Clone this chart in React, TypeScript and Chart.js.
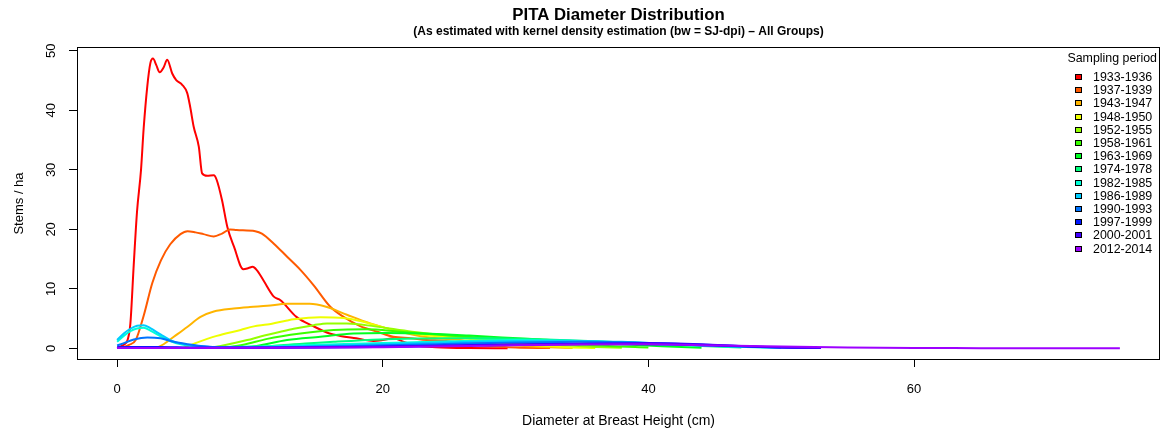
import { useEffect, useRef } from "react";
import { Chart, registerables } from "chart.js";

Chart.register(...registerables);

const FONT = '"Liberation Sans", Arial, sans-serif';

const titleText = "PITA Diameter Distribution";
const subtitleText = "(As estimated with kernel density estimation (bw = SJ-dpi) \u2013 All Groups)";
const legendTitle = "Sampling period";
const xTitle = "Diameter at Breast Height (cm)";
const yTitle = "Stems / ha";
const xTickValues = [0, 20, 40, 60];
const yTickValues = [0, 10, 20, 30, 40, 50];

const periods = [
  "1933-1936", "1937-1939", "1943-1947", "1948-1950", "1952-1955", "1958-1961", "1963-1969",
  "1974-1978", "1982-1985", "1986-1989", "1990-1993", "1997-1999", "2000-2001", "2012-2014",
];

// Kernel density curves, scaled to stems per hectare (x = DBH in cm)
const dbh1933 = [0, 0.5, 0.8, 1.0, 1.25, 1.5, 1.8, 2.0, 2.27, 2.5, 2.7, 2.95, 3.2, 3.5, 3.77, 4.15, 4.45, 4.9, 5.28, 5.5, 5.77, 6.15, 6.4, 6.78, 7.28, 7.5, 7.9, 8.3, 8.8, 9.5, 9.9, 10.2, 10.5, 11.0, 11.8, 12.3, 13.5, 14.8, 16.0, 16.8, 18.0, 19.3, 20.0, 20.8, 21.6, 22.5, 24.0, 26.5, 29.4];
const stems1933 = [0.1, 0.6, 1.5, 4.2, 14, 23, 30, 37, 44, 47.9, 48.7, 47.6, 46.4, 47.2, 48.5, 46.2, 45.1, 44.3, 42.9, 40.6, 37.2, 33.9, 29.4, 29.0, 29.1, 28.3, 24.9, 20.4, 17.1, 13.3, 13.5, 13.7, 13.2, 11.5, 8.7, 8.1, 5.3, 3.7, 2.5, 2.1, 1.7, 1.25, 1.4, 1.7, 1.1, 0.5, 0.2, 0.05, 0.02];

const dbh1937 = [0.3, 0.9, 1.4, 2.0, 2.65, 3.3, 4.0, 4.77, 5.3, 5.9, 6.5, 7.28, 7.9, 8.5, 9.0, 10.4, 10.9, 11.8, 12.8, 13.8, 14.8, 16.05, 17.05, 18.3, 19.6, 20.8, 22.1, 23.3, 24.6, 26.0, 28.0, 30.0, 32.6];
const stems1937 = [0.1, 0.6, 1.4, 5.5, 11, 14.8, 17.5, 19.2, 19.7, 19.5, 19.2, 18.8, 19.3, 20.0, 19.9, 19.7, 19.3, 17.6, 15.4, 13.2, 10.6, 7.0, 5.3, 3.75, 2.8, 1.95, 1.7, 1.4, 1.3, 0.9, 0.4, 0.15, 0.05];

const dbh1943 = [3.0, 3.5, 4.27, 5.28, 6.28, 7.28, 8.78, 10.0, 11.3, 12.8, 14.5, 15.8, 17.3, 19.06, 21.3, 23.3, 25.8, 28.0, 30.0, 32.0, 34.3];
const stems1943 = [0.1, 0.7, 1.95, 3.6, 5.3, 6.2, 6.7, 6.95, 7.15, 7.5, 7.5, 6.95, 5.65, 4.2, 2.8, 1.9, 1.4, 0.8, 0.5, 0.25, 0.05];

const dbh1948 = [5.0, 5.8, 7.5, 9.3, 10.3, 11.3, 12.8, 13.3, 15.3, 17.05, 18.3, 20.8, 23.3, 25.8, 28.0, 31.0, 34.0, 36.0];
const stems1948 = [0.1, 0.8, 2.1, 3.1, 3.7, 4.0, 4.7, 4.9, 5.25, 5.1, 4.6, 3.1, 2.2, 1.8, 1.2, 0.6, 0.2, 0.05];

const dbh1952 = [7.0, 7.8, 9.8, 10.8, 12.3, 13.3, 14.8, 15.8, 17.3, 19.4, 22.2, 24.7, 27.0, 30.0, 33.0, 36.0, 38.0];
const stems1952 = [0.1, 0.4, 1.4, 2.0, 2.8, 3.3, 3.9, 4.2, 4.2, 3.7, 2.8, 2.2, 1.7, 1.1, 0.6, 0.25, 0.1];

const dbh1958 = [8.0, 9.5, 11.3, 13.8, 16.3, 18.8, 21.3, 24.8, 28.0, 31.0, 34.0, 37.0, 40.0];
const stems1958 = [0.1, 0.6, 1.6, 2.5, 3.1, 3.2, 2.8, 2.2, 1.7, 1.2, 0.8, 0.4, 0.15];

const dbh1963 = [9.0, 10.5, 12.8, 15.3, 17.8, 20.3, 23.6, 26.5, 29.8, 32.6, 35.4, 38.0, 41.0, 44.0];
const stems1963 = [0.05, 0.4, 1.4, 1.95, 2.5, 2.6, 2.45, 2.15, 1.75, 1.4, 1.1, 0.7, 0.35, 0.1];

const dbh1974 = [10, 12.3, 14.5, 16.3, 19.8, 22.5, 24.8, 28.0, 32.3, 36.0, 40.0, 44.0, 47.0];
const stems1974 = [0.1, 0.55, 0.85, 1.1, 1.5, 1.65, 1.7, 1.7, 1.5, 1.2, 0.8, 0.4, 0.15];

const dbh1982 = [0, 0.5, 1.0, 1.5, 2.0, 2.5, 3.3, 4.0, 4.8, 5.8, 7.0, 10, 15, 20, 25, 30, 34, 38, 42, 46, 50];
const stems1982 = [1.1, 2.1, 2.9, 3.35, 3.45, 3.0, 2.0, 1.25, 0.7, 0.4, 0.25, 0.3, 0.6, 0.9, 1.2, 1.4, 1.3, 1.0, 0.6, 0.3, 0.1];

const dbh1986 = [0, 0.5, 1.0, 1.5, 2.0, 2.5, 3.3, 4.0, 4.8, 5.8, 7.0, 10, 15, 20, 25, 30, 34, 38, 42, 46, 50];
const stems1986 = [1.4, 2.5, 3.3, 3.8, 3.9, 3.4, 2.3, 1.4, 0.8, 0.45, 0.25, 0.2, 0.4, 0.7, 1.0, 1.25, 1.3, 1.1, 0.7, 0.35, 0.1];

const dbh1990 = [0, 0.3, 1.26, 2.27, 3.27, 4.27, 5.3, 6.3, 8, 12, 18, 24, 30, 35, 39, 43, 47, 50, 52];
const stems1990 = [0.5, 0.7, 1.5, 1.85, 1.7, 1.1, 0.7, 0.4, 0.2, 0.2, 0.4, 0.7, 1.0, 1.1, 1.0, 0.7, 0.4, 0.15, 0.05];

const dbh1997 = [0, 3, 6, 12, 18, 24, 30, 36, 42, 46, 49, 52];
const stems1997 = [0.2, 0.25, 0.1, 0.1, 0.2, 0.4, 0.6, 0.75, 0.65, 0.4, 0.2, 0.05];

const dbh2000 = [0, 5, 10, 20, 28, 34, 40, 44, 47, 50, 53];
const stems2000 = [0.1, 0.1, 0.1, 0.3, 0.6, 0.8, 0.9, 0.7, 0.4, 0.15, 0.05];

const dbh2012 = [0, 10, 20, 28, 35, 40, 45, 50, 55, 60, 65, 70, 75.5];
const stems2012 = [0.05, 0.1, 0.2, 0.45, 0.65, 0.7, 0.5, 0.3, 0.15, 0.07, 0.04, 0.02, 0.01];

const seriesDbh = [dbh1933, dbh1937, dbh1943, dbh1948, dbh1952, dbh1958, dbh1963, dbh1974, dbh1982, dbh1986, dbh1990, dbh1997, dbh2000, dbh2012];
const seriesStems = [stems1933, stems1937, stems1943, stems1948, stems1952, stems1958, stems1963, stems1974, stems1982, stems1986, stems1990, stems1997, stems2000, stems2012];

// Rainbow palette, red through violet
const periodColors = [
  "#FF0000", "#FF5A00", "#FFB500", "#EEFF00", "#94FF00", "#39FF00", "#00FF21",
  "#00FF7C", "#00FFD6", "#00CDFF", "#0073FF", "#0018FF", "#4200FF", "#9D00FF",
];

const headerPlugin = {
  id: "header",
  afterDraw(chart: any) {
    const { ctx, chartArea } = chart;
    const cx = (chartArea.left + chartArea.right) / 2;
    ctx.save();
    ctx.fillStyle = "#000";
    ctx.textAlign = "center";
    ctx.textBaseline = "middle";
    ctx.font = `bold 16.8px ${FONT}`;
    ctx.fillText(titleText, cx, 15);
    ctx.font = `bold 12px ${FONT}`;
    ctx.fillText(subtitleText, cx, 32);
    ctx.restore();
  },
};

const frameLegendPlugin = {
  id: "frameLegend",
  afterDraw(chart: any) {
    const { ctx, chartArea: a } = chart;
    ctx.save();
    ctx.strokeStyle = "#000";
    ctx.lineWidth = 1;
    const l = Math.round(a.left) + 0.5;
    const t = Math.round(a.top) + 0.5;
    ctx.strokeRect(l, t, Math.round(a.right) - 1 - Math.round(a.left), Math.round(a.bottom) - 1 - Math.round(a.top));

    // legend box in the upper right corner of the plot
    ctx.font = `12.4px ${FONT}`;
    ctx.textBaseline = "middle";
    ctx.textAlign = "right";
    ctx.fillStyle = "#000";
    ctx.fillText(legendTitle, a.right - 3, a.top + 11.5);
    ctx.textAlign = "left";
    chart.data.datasets.forEach((ds: any, i: number) => {
      const y = Math.round(a.top + 30 + i * 13.2);
      ctx.fillStyle = ds.borderColor;
      ctx.fillRect(a.right - 85, y - 3, 7, 6);
      ctx.strokeStyle = "#000";
      ctx.strokeRect(a.right - 85 + 0.5, y - 3 + 0.5, 6, 5);
      ctx.fillStyle = "#000";
      ctx.fillText(ds.label, a.right - 67, y + 0.5);
    });
    ctx.restore();
  },
};

export default function App() {
  const canvasRef = useRef<HTMLCanvasElement | null>(null);

  useEffect(() => {
    const canvas = canvasRef.current;
    if (!canvas) return;
    const chart = new Chart(canvas, {
      type: "scatter",
      data: {
        datasets: periods.map((p, i) => ({
          label: p,
          data: seriesDbh[i].map((x, j) => ({ x, y: seriesStems[i][j] })),
          borderColor: periodColors[i],
          backgroundColor: periodColors[i],
          showLine: true,
          pointRadius: 0,
          borderWidth: 2,
          fill: false,
          cubicInterpolationMode: "monotone",
          order: periods.length - i,
        })),
      },
      options: {
        animation: false,
        responsive: false,
        events: [],
        layout: { padding: { top: 47, right: 1, left: 0, bottom: 0 } },
        plugins: {
          legend: { display: false },
          tooltip: { enabled: false },
        },
        scales: {
          x: {
            type: "linear",
            min: -3.02,
            max: 78.52,
            afterBuildTicks: (s: any) => {
              s.ticks = xTickValues.map((v) => ({ value: v }));
            },
            afterFit: (s: any) => {
              s.height = 72;
            },
            grid: { drawOnChartArea: false, drawTicks: true, tickLength: 7, color: "#000" },
            border: { display: false },
            ticks: {
              font: { family: FONT, size: 13 },
              color: "#000",
              padding: 15,
              maxRotation: 0,
              autoSkip: false,
            },
            title: {
              display: true,
              text: xTitle,
              font: { family: FONT, size: 14 },
              color: "#000",
              padding: { top: 0, bottom: 2 },
            },
          },
          y: {
            type: "linear",
            min: -1.95,
            max: 50.65,
            afterBuildTicks: (s: any) => {
              s.ticks = yTickValues.map((v) => ({ value: v }));
            },
            afterFit: (s: any) => {
              s.width = 77;
            },
            grid: { drawOnChartArea: false, drawTicks: true, tickLength: 8, color: "#000" },
            border: { display: false },
            ticks: {
              font: { family: FONT, size: 13 },
              color: "#000",
              padding: 10,
              minRotation: 90,
              maxRotation: 90,
              crossAlign: "center",
            },
            title: {
              display: true,
              text: yTitle,
              font: { family: FONT, size: 13 },
              color: "#000",
              padding: { top: 12, bottom: 0 },
            },
          },
        },
      },
      plugins: [headerPlugin, frameLegendPlugin],
    } as any);
    return () => chart.destroy();
  }, []);

  return (
    <canvas
      ref={canvasRef}
      width={1161}
      height={432}
      style={{ position: "absolute", left: 0, top: 0, display: "block" }}
    />
  );
}
